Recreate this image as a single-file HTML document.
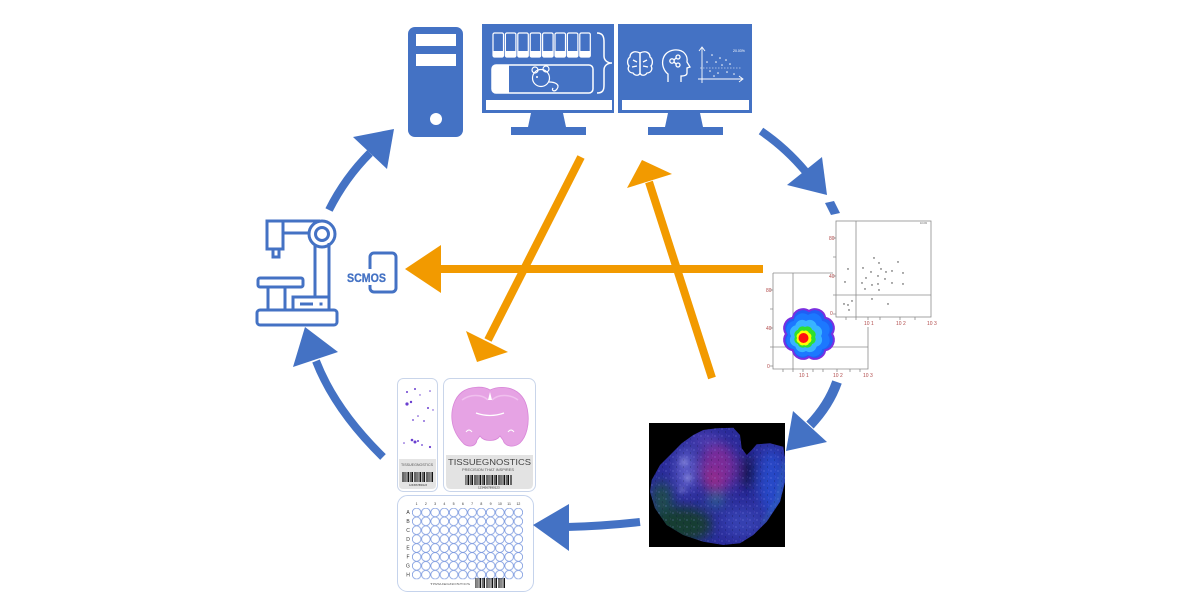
<!DOCTYPE html>
<html>
<head>
<meta charset="utf-8">
<style>
html,body{margin:0;padding:0;background:#fff;}
svg{display:block;}
text{font-family:"Liberation Sans",sans-serif;}
</style>
</head>
<body>
<svg width="1185" height="610" viewBox="0 0 1185 610" xmlns="http://www.w3.org/2000/svg">
<defs>
  <pattern id="bc" x="0" y="0" width="12" height="20" patternUnits="userSpaceOnUse">
    <rect x="0" y="0" width="1.2" height="20" fill="#111"/>
    <rect x="2" y="0" width="0.6" height="20" fill="#111"/>
    <rect x="3.4" y="0" width="1.6" height="20" fill="#111"/>
    <rect x="6" y="0" width="0.6" height="20" fill="#111"/>
    <rect x="7.4" y="0" width="1.1" height="20" fill="#111"/>
    <rect x="9.4" y="0" width="0.5" height="20" fill="#111"/>
    <rect x="10.6" y="0" width="0.9" height="20" fill="#111"/>
  </pattern>
  <pattern id="wells" x="412" y="508" width="9.25" height="8.9" patternUnits="userSpaceOnUse">
    <circle cx="4.62" cy="4.45" r="4.3" fill="none" stroke="#7f9ce0" stroke-width="0.8"/>
  </pattern>
  <pattern id="speck" x="0" y="0" width="7" height="7" patternUnits="userSpaceOnUse">
    <circle cx="1" cy="2" r="0.6" fill="#9aa0ff" opacity="0.5"/>
    <circle cx="4.5" cy="5" r="0.5" fill="#0a0a30" opacity="0.6"/>
    <circle cx="5.5" cy="1" r="0.4" fill="#c080ff" opacity="0.4"/>
  </pattern>
  <clipPath id="tclip">
    <path d="M651.7,480 L660,465 L673.3,451.7 L681.7,443.3 L693.3,435 L703.3,430 L716.7,428.3 L733.3,427.7 L740,435 L741.7,448.3 L746.7,455 L751.7,450 L756.7,444.3 L770,443.3 L783.3,446.7 L785,458 L785,482 L780,501.7 L766.7,521.7 L753.3,535 L740,543.3 L723.3,545 L703.3,541.7 L683.3,535 L666.7,525 L655,508.3 L650,491.7 Z"/>
  </clipPath>
  <filter id="blur6" x="-50%" y="-50%" width="200%" height="200%"><feGaussianBlur stdDeviation="6"/></filter>
  <filter id="blur3" x="-50%" y="-50%" width="200%" height="200%"><feGaussianBlur stdDeviation="2.5"/></filter>
</defs>

<!-- ============ COMPUTER TOWER ============ -->
<rect x="408" y="27" width="55" height="110" rx="7" fill="#4472C4"/>
<rect x="416" y="34" width="40" height="12" fill="#fff"/>
<rect x="416" y="54" width="40" height="12" fill="#fff"/>
<circle cx="436" cy="119" r="6" fill="#fff"/>

<!-- ============ MONITOR 1 ============ -->
<rect x="482" y="24" width="132" height="89" fill="#4472C4"/>
<rect x="486" y="100" width="126" height="10" fill="#fff"/>
<polygon points="531,113 563,113 566,127 528,127" fill="#4472C4"/>
<rect x="511" y="127" width="75" height="8" fill="#4472C4"/>
<g fill="none" stroke="#fff" stroke-width="1.2">
  <rect x="493" y="33" width="10.5" height="24" rx="1.5"/>
  <rect x="505.4" y="33" width="10.5" height="24" rx="1.5"/>
  <rect x="517.8" y="33" width="10.5" height="24" rx="1.5"/>
  <rect x="530.2" y="33" width="10.5" height="24" rx="1.5"/>
  <rect x="542.6" y="33" width="10.5" height="24" rx="1.5"/>
  <rect x="555" y="33" width="10.5" height="24" rx="1.5"/>
  <rect x="567.4" y="33" width="10.5" height="24" rx="1.5"/>
  <rect x="579.8" y="33" width="10.5" height="24" rx="1.5"/>
  <rect x="492" y="65" width="101" height="28" rx="4" stroke-width="1.5"/>
  <path d="M597,33 C603,33 604,37 604,42 L604,56 C604,60 607,63 612,63 C607,63 604,66 604,70 L604,85 C604,90 603,93 597,93" stroke-width="1.5"/>
</g>
<g fill="#fff">
  <rect x="493" y="51" width="10.5" height="6"/>
  <rect x="505.4" y="51" width="10.5" height="6"/>
  <rect x="517.8" y="51" width="10.5" height="6"/>
  <rect x="530.2" y="51" width="10.5" height="6"/>
  <rect x="542.6" y="51" width="10.5" height="6"/>
  <rect x="555" y="51" width="10.5" height="6"/>
  <rect x="567.4" y="51" width="10.5" height="6"/>
  <rect x="579.8" y="51" width="10.5" height="6"/>
  <rect x="492" y="65" width="17" height="28" rx="4"/>
  <rect x="500" y="65" width="9" height="28"/>
</g>
<!-- mouse -->
<g fill="none" stroke="#fff" stroke-width="1.2">
  <circle cx="541" cy="78" r="8.5"/>
  <circle cx="535" cy="70" r="3"/>
  <circle cx="546" cy="69" r="3"/>
  <path d="M549,82 C556,82 560,85 557,89 C555,92 551,91 553,88"/>
</g>
<circle cx="537" cy="77" r="1" fill="#fff"/>

<!-- ============ MONITOR 2 ============ -->
<rect x="618" y="24" width="134" height="89" fill="#4472C4"/>
<rect x="622" y="100" width="127" height="10" fill="#fff"/>
<polygon points="668,113 700,113 703,127 665,127" fill="#4472C4"/>
<rect x="648" y="127" width="75" height="8" fill="#4472C4"/>
<!-- brain -->
<g fill="none" stroke="#fff" stroke-width="1.3">
  <path d="M640,53 C634,50 630,53 630,57 C627,59 627,64 629,66 C627,69 629,73 633,73 C635,76 639,76 640,73 Z"/>
  <path d="M640,53 C646,50 650,53 650,57 C653,59 653,64 651,66 C653,69 651,73 647,73 C645,76 641,76 640,73 Z"/>
  <path d="M633,60 L637,62 M632,67 L637,66 M647,60 L643,62 M648,67 L643,66"/>
</g>
<!-- head -->
<g fill="none" stroke="#fff" stroke-width="1.3">
  <path d="M668,82 L668,74 C660,68 660,52 674,50 C684,49 688,56 687,62 L690,67 L687,68 L687,73 C687,76 683,76 681,76 L681,82"/>
  <circle cx="672" cy="61" r="2.2"/>
  <circle cx="678" cy="57" r="2"/>
  <circle cx="678" cy="65" r="2"/>
  <path d="M674,60 L676,58 M674,62 L676,64"/>
</g>
<!-- mini scatter -->
<g stroke="#fff" stroke-width="0.9" fill="none">
  <path d="M702,83 L702,48"/>
  <path d="M699,51 L702,47 L705,51"/>
  <path d="M698,79 L742,79"/>
  <path d="M739,76 L743,79 L739,82"/>
  <path d="M700,68 L741,68" stroke-dasharray="1.5,1.5" stroke-width="0.6"/>
</g>
<g fill="#fff">
  <circle cx="712" cy="55" r="0.8"/><circle cx="720" cy="58" r="0.8"/><circle cx="716" cy="62" r="0.8"/>
  <circle cx="726" cy="60" r="0.8"/><circle cx="730" cy="64" r="0.8"/><circle cx="722" cy="65" r="0.8"/>
  <circle cx="710" cy="71" r="0.8"/><circle cx="718" cy="73" r="0.8"/><circle cx="727" cy="72" r="0.8"/>
  <circle cx="734" cy="74" r="0.8"/><circle cx="714" cy="76" r="0.8"/><circle cx="707" cy="62" r="0.8"/>
</g>
<text x="733" y="52" font-size="3.5" fill="#fff">20.03%</text>

<!-- ============ MICROSCOPE ============ -->
<g fill="none" stroke="#4472C4" stroke-width="3">
  <rect x="257" y="310" width="80" height="15" rx="3"/>
  <path d="M315,245 L315,297"/>
  <path d="M329,243 L329,310"/>
  <path d="M267,221 L320,221"/>
  <path d="M283,233 L309,233"/>
  <circle cx="322" cy="234" r="13"/>
  <circle cx="322" cy="234" r="6.5"/>
  <rect x="267" y="221" width="16" height="28"/>
  <rect x="273" y="249" width="6" height="8"/>
  <rect x="258" y="278" width="45" height="9" rx="2"/>
  <rect x="268" y="287" width="17" height="23"/>
  <rect x="293" y="297" width="36" height="13"/>
  <path d="M300,304 L313,304"/>
</g>
<rect x="319.5" y="302.5" width="3" height="3" fill="#4472C4"/>

<!-- SCMOS -->
<rect x="370" y="253" width="26" height="39" rx="4" fill="none" stroke="#4472C4" stroke-width="3"/>
<rect x="345" y="269" width="43" height="16" fill="#fff"/>
<text x="347" y="282" font-size="11.5" font-weight="bold" fill="#4472C4" stroke="#4472C4" stroke-width="0.3" textLength="39" lengthAdjust="spacingAndGlyphs">SCMOS</text>

<!-- ============ SCATTER PLOTS ============ -->
<g stroke="#8c8c8c" stroke-width="0.8" fill="none">
  <path d="M773,273 L833,273"/>
  <path d="M773,273 L773,369 L868,369 L868,327"/>
  <path d="M793,273 L793,369"/>
  <path d="M773,347 L868,347"/>
  <path d="M770,290 L773,290 M770,309 L773,309 M770,328 L773,328 M770,347 L773,347 M770,366 L773,366"/>
  <path d="M783,369 L783,372 M793,369 L793,372 M803,369 L803,372 M813,369 L813,372 M823,369 L823,372 M837,369 L837,372 M850,369 L850,372 M860,369 L860,372"/>
</g>
<g fill="#b04848" font-size="5">
  <text x="766" y="292">80</text>
  <text x="766" y="330">40</text>
  <text x="767" y="368">0</text>
  <text x="799" y="377">10 1</text>
  <text x="833" y="377">10 2</text>
  <text x="863" y="377">10 3</text>
</g>
<rect x="833" y="218" width="112" height="109" fill="#fff"/>
<g stroke="#8c8c8c" stroke-width="0.8" fill="none">
  <rect x="836" y="221" width="95" height="96"/>
  <path d="M856,221 L856,317"/>
  <path d="M836,295 L931,295"/>
  <path d="M833,238 L836,238 M833,257 L836,257 M833,276 L836,276 M833,295 L836,295 M833,314 L836,314"/>
  <path d="M846,317 L846,320 M856,317 L856,320 M868,317 L868,320 M880,317 L880,320 M900,317 L900,320 M915,317 L915,320"/>
</g>
<g fill="#b04848" font-size="5">
  <text x="829" y="240">80</text>
  <text x="829" y="278">40</text>
  <text x="830" y="315">0</text>
  <text x="864" y="325">10 1</text>
  <text x="896" y="325">10 2</text>
  <text x="927" y="325">10 3</text>
</g>
<text x="920" y="224" font-size="2.5" fill="#555">10.0%</text>
<g fill="#333">
  <circle cx="848" cy="269" r="0.7"/><circle cx="845" cy="282" r="0.7"/><circle cx="863" cy="268" r="0.7"/>
  <circle cx="866" cy="278" r="0.7"/><circle cx="871" cy="272" r="0.7"/><circle cx="874" cy="258" r="0.7"/>
  <circle cx="879" cy="263" r="0.7"/><circle cx="881" cy="269" r="0.7"/><circle cx="878" cy="276" r="0.7"/>
  <circle cx="886" cy="272" r="0.7"/><circle cx="892" cy="271" r="0.7"/><circle cx="898" cy="262" r="0.7"/>
  <circle cx="903" cy="273" r="0.7"/><circle cx="903" cy="284" r="0.7"/><circle cx="892" cy="283" r="0.7"/>
  <circle cx="885" cy="279" r="0.7"/><circle cx="878" cy="284" r="0.7"/><circle cx="872" cy="285" r="0.7"/>
  <circle cx="865" cy="289" r="0.7"/><circle cx="862" cy="283" r="0.7"/><circle cx="879" cy="290" r="0.7"/>
  <circle cx="852" cy="301" r="0.7"/><circle cx="844" cy="304" r="0.7"/><circle cx="848" cy="305" r="0.7"/>
  <circle cx="849" cy="310" r="0.7"/><circle cx="872" cy="299" r="0.7"/><circle cx="888" cy="304" r="0.7"/>
</g>
<!-- density blob -->
<path d="M832,334 A10.5,10.5 0 0 1 825.26,350.26 A10.5,10.5 0 0 1 809,357 A10.5,10.5 0 0 1 792.74,350.26 A10.5,10.5 0 0 1 786,334 A10.5,10.5 0 0 1 792.74,317.74 A10.5,10.5 0 0 1 809,311 A10.5,10.5 0 0 1 825.26,317.74 A10.5,10.5 0 0 1 832,334 Z" fill="#1f5ff5" stroke="#7a2fe0" stroke-width="2"/>
<path d="M828,335 A9,9 0 0 1 822.14,349.14 A9,9 0 0 1 808,355 A9,9 0 0 1 793.86,349.14 A9,9 0 0 1 788,335 A9,9 0 0 1 793.86,320.86 A9,9 0 0 1 808,315 A9,9 0 0 1 822.14,320.86 A9,9 0 0 1 828,335 Z" fill="#1c78ff"/>
<path d="M821,336 A7,7 0 0 1 816.61,346.61 A7,7 0 0 1 806,351 A7,7 0 0 1 795.39,346.61 A7,7 0 0 1 791,336 A7,7 0 0 1 795.39,325.39 A7,7 0 0 1 806,321 A7,7 0 0 1 816.61,325.39 A7,7 0 0 1 821,336 Z" fill="#38b4ff"/>
<path d="M815,337 A4.8,4.8 0 0 1 812.07,344.07 A4.8,4.8 0 0 1 805,347 A4.8,4.8 0 0 1 797.93,344.07 A4.8,4.8 0 0 1 795,337 A4.8,4.8 0 0 1 797.93,329.93 A4.8,4.8 0 0 1 805,327 A4.8,4.8 0 0 1 812.07,329.93 A4.8,4.8 0 0 1 815,337 Z" fill="#2ee02e"/>
<path d="M811,338 A3.4,3.4 0 0 1 808.95,342.95 A3.4,3.4 0 0 1 804,345 A3.4,3.4 0 0 1 799.05,342.95 A3.4,3.4 0 0 1 797,338 A3.4,3.4 0 0 1 799.05,333.05 A3.4,3.4 0 0 1 804,331 A3.4,3.4 0 0 1 808.95,333.05 A3.4,3.4 0 0 1 811,338 Z" fill="#ffff00"/>
<circle cx="803.5" cy="338" r="5" fill="#ff1010"/>

<!-- ============ TISSUE IMAGE ============ -->
<rect x="649" y="423" width="136" height="124" fill="#000"/>
<g clip-path="url(#tclip)">
  <rect x="645" y="420" width="145" height="130" fill="#2a2c9a"/>
  <g filter="url(#blur6)">
    <ellipse cx="718" cy="468" rx="18" ry="24" fill="#7c2a98"/>
    <ellipse cx="712" cy="480" rx="8" ry="10" fill="#9a2c86"/>
    <ellipse cx="686" cy="470" rx="10" ry="22" fill="#5c5cc8"/>
    <ellipse cx="680" cy="525" rx="32" ry="18" fill="#163c32"/>
    <ellipse cx="662" cy="498" rx="10" ry="16" fill="#1d4d4a"/>
    <ellipse cx="772" cy="482" rx="13" ry="34" fill="#2848c8"/>
    <ellipse cx="742" cy="522" rx="20" ry="15" fill="#3640b0"/>
    <ellipse cx="716" cy="500" rx="7" ry="5" fill="#2a8486"/>
    <ellipse cx="748" cy="472" rx="6" ry="18" fill="#0c0c40"/>
    <ellipse cx="705" cy="440" rx="15" ry="8" fill="#4c3cb0"/>
  </g>
  <rect x="645" y="420" width="145" height="130" fill="url(#speck)"/>
  <g fill="#a8a8ea" opacity="0.45" filter="url(#blur3)">
    <circle cx="684" cy="462" r="4"/>
    <circle cx="688" cy="478" r="4"/>
    <circle cx="682" cy="490" r="3"/>
  </g>
  <path d="M785,460 L778,500 L762,525" fill="none" stroke="#3fa0c8" stroke-width="2" opacity="0.6" filter="url(#blur3)"/>
</g>

<!-- ============ SLIDES ============ -->
<rect x="397.5" y="378.5" width="40" height="113" rx="6" fill="#fff" stroke="#c9d5ea" stroke-width="1"/>
<path d="M399,459 L436,459 L436,485 Q436,489 432,489 L403,489 Q399,489 399,485 Z" fill="#e4e4e4"/>
<g fill="#6a3fd0">
  <circle cx="407" cy="392" r="1"/><circle cx="415" cy="389" r="1"/><circle cx="430" cy="391" r="0.8"/>
  <circle cx="407" cy="404" r="1.6"/><circle cx="411" cy="402" r="1.2"/><circle cx="428" cy="408" r="1"/>
  <circle cx="418" cy="416" r="0.8"/><circle cx="424" cy="421" r="0.9"/><circle cx="413" cy="420" r="0.9"/>
  <circle cx="412" cy="440" r="1.3"/><circle cx="415" cy="442" r="1.5"/><circle cx="418" cy="441" r="1"/>
  <circle cx="422" cy="445" r="0.9"/><circle cx="430" cy="447" r="1.1"/><circle cx="404" cy="443" r="0.8"/>
  <circle cx="433" cy="410" r="0.7"/><circle cx="420" cy="395" r="0.7"/>
</g>
<text x="401" y="466" font-size="3.5" fill="#555" textLength="32" lengthAdjust="spacingAndGlyphs">TISSUEGNOSTICS</text>
<rect x="401" y="472" width="32" height="10" fill="url(#bc)"/>
<text x="409" y="486" font-size="2.5" fill="#333">1234567890123</text>

<rect x="443.5" y="378.5" width="92" height="113" rx="7" fill="#fff" stroke="#c9d5ea" stroke-width="1"/>
<path d="M446,455 L533,455 L533,484 Q533,489 528,489 L451,489 Q446,489 446,484 Z" fill="#e3e3e3"/>
<path d="M490,390 C484,386 470,386 462,392 C454,398 451,410 452,420 C453,430 458,438 464,444 C470,448 476,446 477,440 L480,436 C484,442 496,442 500,436 L503,440 C505,447 514,448 520,443 C527,436 529,424 528,414 C527,402 522,394 514,390 C506,386 496,387 490,390 Z" fill="#e6a3e4" stroke="#d886d8" stroke-width="0.8"/>
<path d="M462,400 C470,394 482,394 488,400 M492,400 C498,394 510,394 518,400" fill="none" stroke="#f0c0ee" stroke-width="1.5"/>
<path d="M476,413 Q490,418 504,413" fill="none" stroke="#fff" stroke-width="1.2"/>
<path d="M488,400 L490,392 L492,400" fill="#fff"/>
<path d="M466,432 q3,-4 6,0 M508,432 q3,-4 6,0" fill="none" stroke="#fff" stroke-width="1"/>
<text x="448" y="465" font-size="8.5" fill="#444" textLength="83" lengthAdjust="spacingAndGlyphs">TISSUEGNOSTICS</text>
<text x="462" y="471" font-size="3.8" fill="#555" textLength="52" lengthAdjust="spacingAndGlyphs">PRECISION THAT INSPIRES</text>
<rect x="465" y="475" width="47" height="10" fill="url(#bc)"/>
<text x="478" y="488.5" font-size="3" fill="#333">1234567890123</text>

<!-- ============ WELL PLATE ============ -->
<rect x="397.5" y="495.5" width="136" height="96" rx="10" fill="#fff" stroke="#c5d3ec" stroke-width="1"/>
<rect x="412" y="508" width="111" height="71.2" fill="url(#wells)"/>
<g font-size="3.5" fill="#333" text-anchor="middle">
  <text x="416.6" y="505">1</text><text x="425.9" y="505">2</text><text x="435.1" y="505">3</text>
  <text x="444.4" y="505">4</text><text x="453.6" y="505">5</text><text x="462.9" y="505">6</text>
  <text x="472.1" y="505">7</text><text x="481.4" y="505">8</text><text x="490.6" y="505">9</text>
  <text x="499.9" y="505">10</text><text x="509.1" y="505">11</text><text x="518.4" y="505">12</text>
</g>
<g font-size="5" fill="#333" text-anchor="middle">
  <text x="408" y="514">A</text><text x="408" y="523">B</text><text x="408" y="532">C</text>
  <text x="408" y="541">D</text><text x="408" y="549.5">E</text><text x="408" y="558.5">F</text>
  <text x="408" y="567.5">G</text><text x="408" y="576.5">H</text>
</g>
<text x="430" y="585" font-size="3" fill="#555" textLength="40" lengthAdjust="spacingAndGlyphs">TISSUEGNOSTICS</text>
<rect x="475" y="578" width="30" height="10" fill="url(#bc)"/>

<!-- ============ BLUE CYCLE ARROWS ============ -->
<g fill="none" stroke="#4472C4" stroke-width="8">
  <path d="M329,210 Q345,178 370,153"/>
  <path d="M761,131 Q786,148 806,172"/>
  <path d="M837,382 Q829,405 810,425" stroke-width="10"/>
  <path d="M640,522 Q605,526 567,527"/>
  <path d="M383,457 Q335,410 316,361"/>
</g>
<g fill="#4472C4">
  <polygon points="394,129 353,137 387,169"/>
  <polygon points="827,195 787,185 822,157"/>
  <polygon points="786,451 793,411 827,442"/>
  <polygon points="533,525 569,504 569,551"/>
  <polygon points="305,327 293,367 338,352"/>
  <polygon points="825,203 834,201 840,213 831,215"/>
</g>

<!-- ============ ORANGE ARROWS ============ -->
<g stroke="#F29A00" stroke-width="8" fill="none">
  <path d="M763,269 L440,269"/>
  <path d="M581,157 L488,340"/>
  <path d="M712,378 L649,182"/>
</g>
<g fill="#F29A00">
  <polygon points="405,269 441,245 441,293"/>
  <polygon points="477,362 466,331 508,352"/>
  <polygon points="642,160 627,188 672,174"/>
</g>
</svg>
</body>
</html>
